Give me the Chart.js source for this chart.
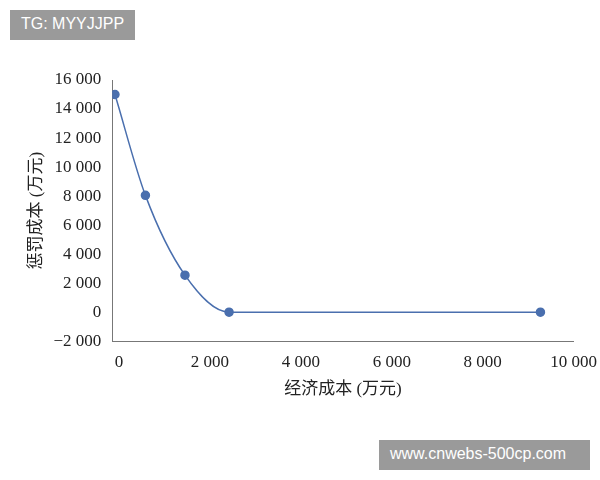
<!DOCTYPE html>
<html>
<head>
<meta charset="utf-8">
<script src="https://cdn.jsdelivr.net/npm/chart.js@4"></script>
<style>
  body { margin: 0; background: #fff; }
  #wrap { position: relative; width: 600px; height: 480px; }
  .mark { position: absolute; background: #9a9a9a; color: #fff; font: 16px "Liberation Sans", sans-serif; padding: 5px 11px; height: 20px; }
</style>
</head>
<body>
<div id="wrap">
  <canvas id="c" width="600" height="480"></canvas>
  <div class="mark" style="left:10px;top:10px;">TG: MYYJJPP</div>
  <div class="mark" style="left:379px;top:440px;width:189px;">www.cnwebs-500cp.com</div>
</div>
<script>
// economic cost vs penalty cost (both in 万元)
let econCost = [-90, 580, 1450, 2420, 9270];
let penaltyCost = [15000, 8050, 2550, 0, 0];
let xTicks = [0, 2000, 4000, 6000, 8000, 10000];
let yTicks = [-2000, 0, 2000, 4000, 6000, 8000, 10000, 12000, 14000, 16000];

function fmt(v) {
    let s = String(Math.abs(v)).replace(/\B(?=(\d{3})+(?!\d))/g, " ");
    return v < 0 ? "\u2212" + s : s;
}

let pts = econCost.map((x, i) => ({x: x, y: penaltyCost[i]}));
let font = {family: "'Liberation Serif', 'Noto Sans CJK SC', serif", size: 17};

new Chart(document.getElementById("c"), {
    type: "scatter",
    data: {
        datasets: [{
            data: pts,
            showLine: true,
            cubicInterpolationMode: "monotone",
            borderColor: "#4a6fae",
            borderWidth: 1.5,
            backgroundColor: "#4a6fae",
            pointRadius: 4
        }]
    },
    options: {
        responsive: false,
        animation: false,
        layout: {padding: {left: 22, right: 25, top: 80, bottom: 76}},
        plugins: {legend: {display: false}, tooltip: {enabled: false}},
        scales: {
            x: {
                min: -150, max: 10000,
                afterBuildTicks: a => { a.ticks = xTicks.map(v => ({value: v})); },
                grid: {display: false},
                border: {color: "#777", width: 1},
                ticks: {color: "#222", font: font, callback: v => fmt(v)},
                title: {display: true, text: "经济成本 (万元)", color: "#222", font: font}
            },
            y: {
                min: -2000, max: 16000,
                afterBuildTicks: a => { a.ticks = yTicks.map(v => ({value: v})); },
                grid: {display: false},
                border: {color: "#777", width: 1},
                ticks: {color: "#222", font: font, callback: v => fmt(v)},
                title: {display: true, text: "惩罚成本 (万元)", color: "#222", font: font}
            }
        }
    }
});
</script>
</body>
</html>
